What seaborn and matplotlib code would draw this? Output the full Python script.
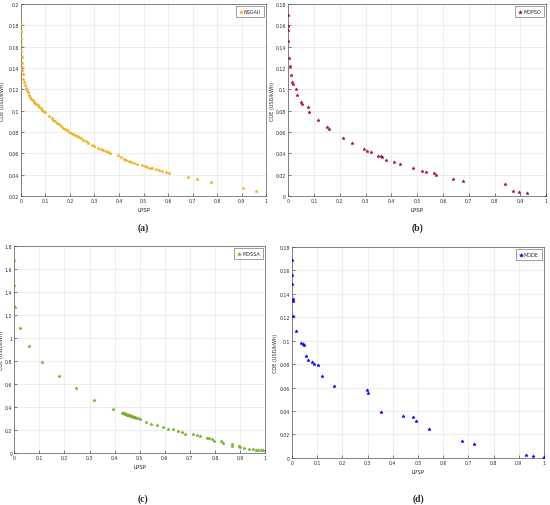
import numpy as np
import pandas as pd
import matplotlib
matplotlib.use("Agg")
import matplotlib.pyplot as plt
import seaborn as sns
from matplotlib.ticker import FuncFormatter

# --- data (LPSP vs COE) ---
nsga_lpsp = [0.000, 0.0005, 0.001, 0.0015, 0.002, 0.003, 0.004, 0.005, 0.006, 0.008,
             0.010, 0.013, 0.016, 0.020, 0.024, 0.028, 0.033, 0.038, 0.043, 0.048,
             0.053, 0.058, 0.063, 0.068, 0.074, 0.080, 0.086, 0.092, 0.098, 0.115,
             0.125, 0.132, 0.140, 0.148, 0.156, 0.165, 0.172, 0.180, 0.188, 0.196,
             0.204, 0.212, 0.220, 0.228, 0.236, 0.245, 0.255, 0.265, 0.275, 0.290,
             0.300, 0.315, 0.325, 0.335, 0.345, 0.355, 0.365, 0.395, 0.410, 0.420,
             0.430, 0.440, 0.450, 0.462, 0.475, 0.495, 0.505, 0.515, 0.525, 0.535,
             0.550, 0.565, 0.575, 0.590, 0.602, 0.680, 0.718, 0.773, 0.906, 0.957]
nsga_coe = [0.181, 0.175, 0.168, 0.162, 0.156, 0.150, 0.145, 0.141, 0.138, 0.134,
            0.130, 0.127, 0.124, 0.121, 0.119, 0.117, 0.115, 0.113, 0.111, 0.110,
            0.108, 0.107, 0.106, 0.105, 0.103, 0.102, 0.101, 0.100, 0.099, 0.095,
            0.093, 0.091, 0.090, 0.088, 0.087, 0.086, 0.084, 0.083, 0.082, 0.080,
            0.079, 0.078, 0.077, 0.076, 0.075, 0.074, 0.072, 0.071, 0.070, 0.068,
            0.067, 0.065, 0.064, 0.063, 0.062, 0.061, 0.060, 0.058, 0.056, 0.055,
            0.054, 0.053, 0.052, 0.051, 0.050, 0.049, 0.048, 0.047, 0.046, 0.046,
            0.045, 0.044, 0.043, 0.042, 0.041, 0.038, 0.036, 0.033, 0.027, 0.025]

mopso_lpsp = [0.0, 0.0, 0.0, 0.0, 0.0026, 0.0052, 0.0116, 0.0142, 0.0168, 0.031,
              0.0349, 0.0505, 0.0543, 0.075, 0.0815, 0.1151, 0.150, 0.1578, 0.2122, 0.2484,
              0.2924, 0.3066, 0.3208, 0.348, 0.3596, 0.3622, 0.3803, 0.4101, 0.4347, 0.4838,
              0.5201, 0.5343, 0.5666, 0.5718, 0.6403, 0.6792, 0.8422, 0.8719, 0.8952, 0.9263, 1.0]
mopso_coe = [0.1697, 0.1597, 0.1559, 0.1453, 0.1296, 0.1215, 0.1133, 0.1064, 0.1046, 0.1002,
             0.0949, 0.0877, 0.0861, 0.0836, 0.0783, 0.0708, 0.0645, 0.0629, 0.0545, 0.0495,
             0.0438, 0.0423, 0.0407, 0.0376, 0.0370, 0.0360, 0.0341, 0.0313, 0.0297, 0.0257,
             0.0229, 0.0222, 0.0213, 0.0200, 0.0156, 0.0138, 0.0110, 0.0047, 0.0038, 0.0028, 0.0]

mossa_lpsp = [0.0, 0.0, 0.004, 0.021, 0.0585, 0.110, 0.177, 0.247, 0.319, 0.392,
              0.431, 0.434, 0.437, 0.440, 0.443, 0.446, 0.449, 0.452, 0.455, 0.458,
              0.461, 0.464, 0.467, 0.470, 0.474, 0.478, 0.482, 0.487, 0.493, 0.500,
              0.525, 0.544, 0.569, 0.594, 0.614, 0.633, 0.654, 0.670, 0.682, 0.711,
              0.730, 0.741, 0.767, 0.778, 0.787, 0.795, 0.824, 0.834, 0.867, 0.870,
              0.896, 0.900, 0.916, 0.937, 0.953, 0.964, 0.973, 0.982, 0.990]
mossa_coe = [1.679, 1.464, 1.271, 1.090, 0.933, 0.793, 0.668, 0.560, 0.464, 0.382,
             0.350, 0.347, 0.344, 0.341, 0.338, 0.335, 0.332, 0.330, 0.328, 0.326,
             0.323, 0.321, 0.319, 0.317, 0.314, 0.311, 0.308, 0.305, 0.300, 0.295,
             0.268, 0.254, 0.242, 0.227, 0.210, 0.204, 0.190, 0.181, 0.166, 0.160,
             0.152, 0.146, 0.131, 0.128, 0.122, 0.105, 0.099, 0.087, 0.076, 0.064,
             0.058, 0.047, 0.041, 0.035, 0.032, 0.029, 0.026, 0.024, 0.022]

mode_lpsp = [0.0, 0.0, 0.0, 0.003, 0.003, 0.005, 0.016, 0.034, 0.0435, 0.0475,
             0.057, 0.0646, 0.079, 0.087, 0.104, 0.120, 0.1675, 0.2995, 0.302, 0.352,
             0.442, 0.4815, 0.491, 0.545, 0.674, 0.723, 0.929, 0.958, 1.0, 1.0]
mode_coe = [0.169, 0.1557, 0.148, 0.1352, 0.134, 0.1207, 0.1085, 0.098, 0.0969, 0.0963,
            0.0872, 0.0835, 0.0821, 0.0804, 0.079, 0.0702, 0.0616, 0.058, 0.0554, 0.0392,
            0.0355, 0.0352, 0.0315, 0.0244, 0.0142, 0.0116, 0.0026, 0.0020, 0.0009, 0.0]

panels = [
    ("NSGAII", nsga_lpsp, nsga_coe, "#EDB120", (0.02, 0.2), np.arange(0.02, 0.201, 0.02), "(a)"),
    ("MOPSO", mopso_lpsp, mopso_coe, "#A2142F", (0, 0.18), np.arange(0, 0.181, 0.02), "(b)"),
    ("MOSSA", mossa_lpsp, mossa_coe, "#77AC30", (0, 1.8), np.arange(0, 1.81, 0.2), "(c)"),
    ("MODE", mode_lpsp, mode_coe, "#0000FF", (0, 0.18), np.arange(0, 0.181, 0.02), "(d)"),
]

boxes = [
    [0.038, 0.611, 0.446, 0.379],
    [0.524, 0.611, 0.469, 0.379],
    [0.026, 0.103, 0.456, 0.409],
    [0.531, 0.093, 0.458, 0.417],
]
# y-label x position (axes fraction)
ylabel_x = [-0.066, -0.050, -0.040, -0.056]
caption_pos = [(0.26, 0.549), (0.76, 0.549), (0.26, 0.014), (0.76, 0.014)]

sns.set_style("ticks")
plt.rcParams["font.family"] = ["DejaVu Sans"]

fig = plt.figure(figsize=(5.5, 5.06), dpi=100)
fmt = FuncFormatter(lambda v, p: f"{round(v, 4):g}")

for (name, xs, ys, color, ylim, yticks, cap), box, lx, cpos in zip(panels, boxes, ylabel_x, caption_pos):
    ax = fig.add_axes(box)
    df = pd.DataFrame({"LPSP": xs, "COE": ys})
    sns.scatterplot(data=df, x="LPSP", y="COE", ax=ax, color=color, marker="*",
                    s=6, linewidth=0.3, edgecolor=color, label=name, zorder=3)
    ax.set_xlim(0, 1)
    ax.set_ylim(*ylim)
    ax.set_xticks(np.arange(0, 1.01, 0.1))
    ax.set_yticks(yticks)
    ax.xaxis.set_major_formatter(fmt)
    ax.yaxis.set_major_formatter(fmt)
    ax.tick_params(labelsize=3.3, direction="in", length=2, width=0.4, pad=1.5)
    ax.grid(True, color="#e6e6e6", lw=0.5)
    for sp in ax.spines.values():
        sp.set_color("#555555")
        sp.set_linewidth(0.5)
    ax.set_xlabel("LPSP", fontsize=4, labelpad=3)
    ax.set_ylabel("COE (USD/kWh)", fontsize=3.6)
    ax.yaxis.set_label_coords(lx, 0.5)
    leg = ax.legend(loc="upper right", fontsize=3.5, markerscale=1.2, handletextpad=0.2,
                    handlelength=0.8, borderpad=0.6, fancybox=False, framealpha=1)
    leg.get_frame().set_linewidth(0.4)
    leg.get_frame().set_edgecolor("#555555")
    fig.text(cpos[0], cpos[1], cap, fontsize=7, ha="center", va="center",
             family="Liberation Serif", weight="bold")

fig.savefig("out.png", dpi=100)
